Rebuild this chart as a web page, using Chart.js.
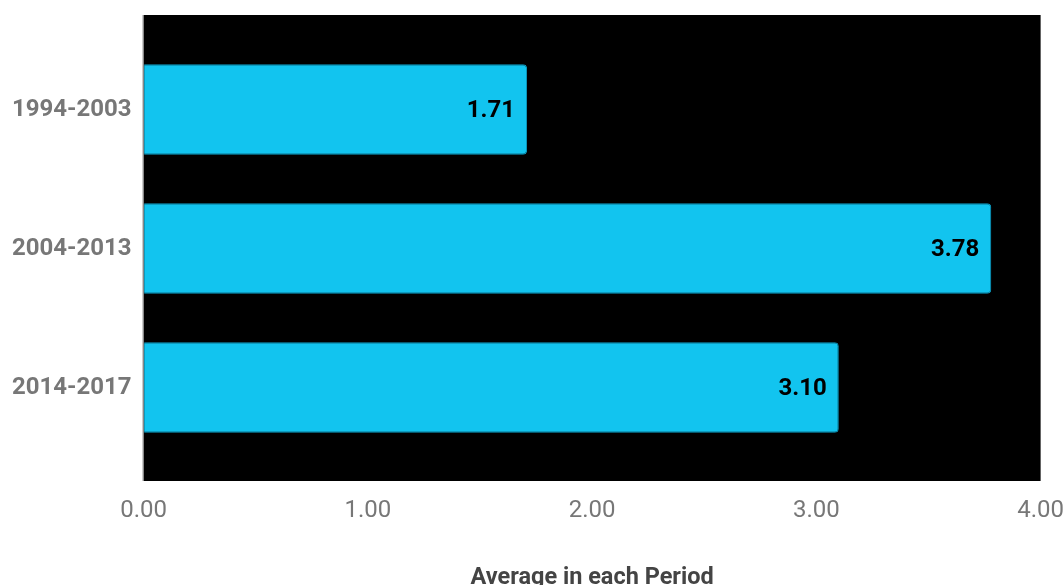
<!DOCTYPE html>
<html>
<head>
<meta charset="utf-8">
<script src="https://cdn.jsdelivr.net/npm/chart.js@4/dist/chart.umd.min.js"></script>
<style>
  html, body { margin: 0; padding: 0; background: #ffffff; }
  #wrap { width: 1064px; height: 585px; }
</style>
</head>
<body>
<div id="wrap"><canvas id="chart" width="1064" height="585"></canvas></div>
<script>
// Periods and the average value for each one
const periods = ['1994-2003', '2004-2013', '2014-2017'];
const averages = [1.71, 3.78, 3.10];
const axisTitle = 'Average in each Period';
const xMin = 0;
const xMax = 4;
const xStep = 1;

const FONT = 'Roboto, "Noto Sans", sans-serif';

// Black plot panel (a little taller than the category band) plus the left axis line
const panelPlugin = {
  id: 'panel',
  beforeDraw(chart) {
    const { ctx, chartArea: a } = chart;
    ctx.save();
    ctx.fillStyle = '#000000';
    ctx.fillRect(a.left, a.top - 25, a.right - a.left, a.bottom - a.top + 49);
    ctx.strokeStyle = '#7a7a7a';
    ctx.lineWidth = 1;
    ctx.beginPath();
    ctx.moveTo(a.left - 0.5, a.top - 25);
    ctx.lineTo(a.left - 0.5, a.bottom + 24);
    ctx.stroke();
    ctx.restore();
  }
};

// Value printed inside the end of each bar
const valueLabelPlugin = {
  id: 'valueLabels',
  afterDatasetsDraw(chart) {
    const { ctx } = chart;
    const meta = chart.getDatasetMeta(0);
    const values = chart.data.datasets[0].data;
    ctx.save();
    ctx.font = 'bold 24px ' + FONT;
    ctx.fillStyle = '#000000';
    ctx.textAlign = 'right';
    ctx.textBaseline = 'middle';
    meta.data.forEach((bar, i) => {
      ctx.fillText(values[i].toFixed(2), bar.x - 12, bar.y + 1);
    });
    ctx.restore();
  }
};

new Chart(document.getElementById('chart'), {
  type: 'bar',
  data: {
    labels: periods,
    datasets: [{
      data: averages,
      backgroundColor: '#12C4EF',
      borderColor: '#0B9BC2',
      borderWidth: 1,
      borderRadius: 4,
      borderSkipped: 'start',
      categoryPercentage: 1,
      barPercentage: 0.65
    }]
  },
  options: {
    indexAxis: 'y',
    responsive: false,
    animation: false,
    layout: { padding: { top: 40, left: 0, right: 0, bottom: -7 } },
    plugins: {
      legend: { display: false },
      tooltip: { enabled: false }
    },
    scales: {
      x: {
        min: xMin,
        max: xMax,
        grid: {
          display: true,
          drawOnChartArea: false,
          drawTicks: true,
          tickLength: 40,
          color: 'rgba(0,0,0,0)'
        },
        border: { display: false },
        ticks: {
          stepSize: xStep,
          padding: 0,
          color: '#777777',
          font: { family: FONT, size: 24 },
          callback: (v) => Number(v).toFixed(2)
        },
        title: {
          display: true,
          text: axisTitle,
          color: '#444444',
          font: { family: FONT, size: 23.5, weight: 'bold' },
          padding: { top: 38, bottom: 0 }
        }
      },
      y: {
        grid: { display: false, drawTicks: false },
        border: { display: false },
        ticks: {
          padding: 12,
          color: '#777777',
          font: { family: FONT, size: 24, weight: 'bold' }
        }
      }
    }
  },
  plugins: [panelPlugin, valueLabelPlugin]
});
</script>
</body>
</html>
